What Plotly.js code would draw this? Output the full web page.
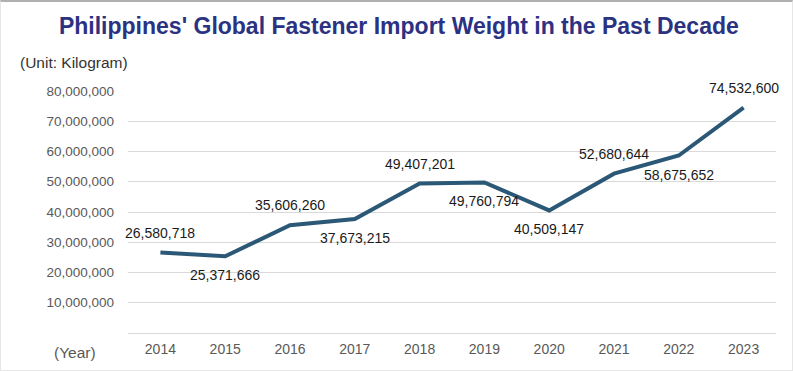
<!DOCTYPE html>
<html><head><meta charset="utf-8">
<script src="https://cdn.plot.ly/plotly-3.0.1.min.js"></script>
<style>html,body{margin:0;padding:0;background:#fff;}
#wrap{position:relative;width:793px;height:371px;}
#frame{position:absolute;left:0;top:0;width:791px;height:368px;border:1px solid #e6e6e6;border-top:2px solid #b0b0b0;box-sizing:content-box;pointer-events:none;}
</style>
</head><body><div id="wrap"><div id="chart" style="width:793px;height:371px;"></div><div id="frame"></div></div>
<script>
const years = [2014, 2015, 2016, 2017, 2018, 2019, 2020, 2021, 2022, 2023];
const weights = [26580718, 25371666, 35606260, 37673215, 49407201, 49760794, 40509147, 52680644, 58675652, 74532600];
const labelSide = ['above','below','above','below','above','below','below','above','below','above'];
const yTicks = [10000000,20000000,30000000,40000000,50000000,60000000,70000000,80000000];

const FONT = 'Liberation Sans, Arial, sans-serif';
const fmt = v => v.toLocaleString('en-US');
const annotations = years.map((y,i)=>({
  x: y, y: weights[i], xref:'x', yref:'y', text: fmt(weights[i]), showarrow:false,
  yshift: labelSide[i]==='above' ? 20 : -19,
  font:{family:FONT, size:14, color:'#1a1a1a'}
}));
annotations.push({xref:'paper', yref:'paper', x:-0.1698, y:1.0, xanchor:'left', yanchor:'middle', yshift:29,
  text:'(Unit: Kilogram)', showarrow:false, font:{family:FONT, size:15.5, color:'#333'}});
annotations.push({xref:'paper', yref:'paper', x:-0.0818, y:0, xanchor:'center', yanchor:'middle', yshift:-19,
  text:'(Year)', showarrow:false, font:{family:FONT, size:15.5, color:'#595959'}});

const trace = {x: years, y: weights, type:'scatter', mode:'lines',
  line:{color:'#2b5876', width:4}, hoverinfo:'skip'};

const layout = {
  width:793, height:371,
  margin:{l:128, r:17, t:91, b:38},
  paper_bgcolor:'#fff', plot_bgcolor:'#fff',
  title:{text:"<b>Philippines' Global Fastener Import Weight in the Past Decade</b>",
    x:0.503, xanchor:'center', y:0.93, yanchor:'middle',
    font:{family:FONT, size:23, color:'#2b3282'}},
  showlegend:false,
  xaxis:{range:[2013.5, 2023.5], tickvals:years, ticktext:years.map(String), showgrid:false,
    zeroline:false, showline:false, ticks:'',
    tickfont:{family:FONT, size:14, color:'#595959'}, ticklabelstandoff:6},
  yaxis:{range:[0,80000000], tickvals:yTicks, ticktext:yTicks.map(fmt), showgrid:true,
    gridcolor:'#d9d9d9', gridwidth:1, zeroline:true, zerolinecolor:'#d9d9d9', zerolinewidth:1,
    showline:false, ticks:'', ticklabelstandoff:13,
    tickfont:{family:FONT, size:13.5, color:'#595959'}},
  annotations: annotations
};
Plotly.newPlot('chart',[trace],layout,{displayModeBar:false, staticPlot:true});
</script></body></html>
